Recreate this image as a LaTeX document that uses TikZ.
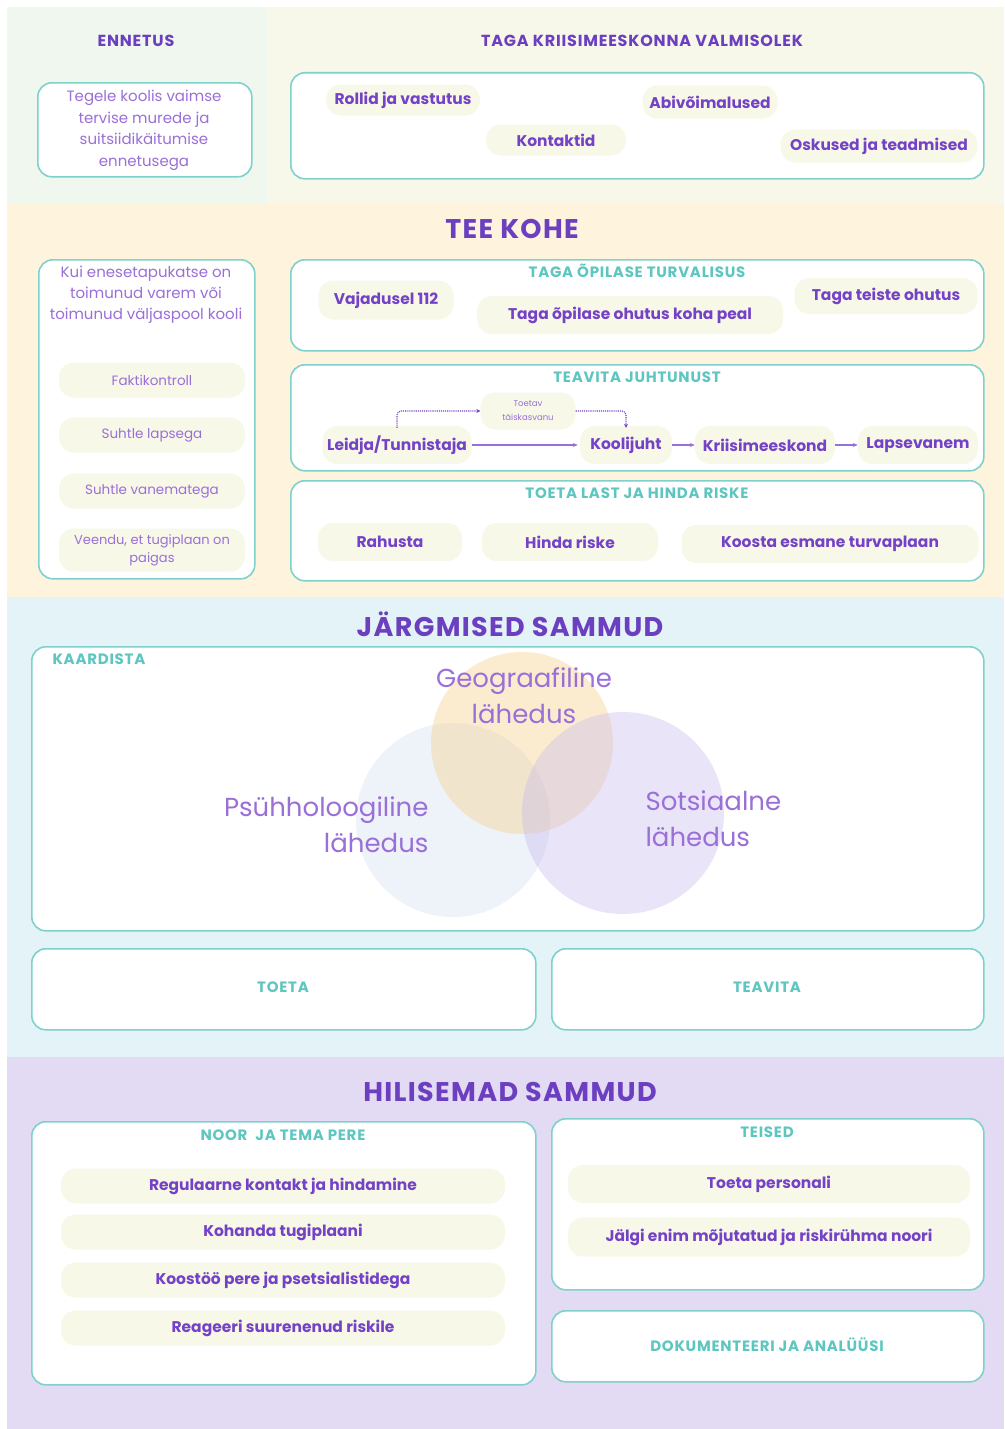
\documentclass[tikz,border=0pt]{standalone}
\usepackage{fontspec}
\setmainfont{Poppins}
\newfontfamily\capsf[LetterSpace=5]{Poppins}
\usetikzlibrary{arrows.meta}
\definecolor{purpD}{HTML}{6B3FC0}
\definecolor{purpT}{HTML}{7442C6}
\definecolor{purpL}{HTML}{9A6FD8}
\definecolor{tealT}{HTML}{5EC6C0}
\definecolor{tealB}{HTML}{7FD1CC}
\definecolor{cream}{HTML}{F8F8E8}
\definecolor{bgGreen}{HTML}{EFF7EF}
\definecolor{bgCream}{HTML}{F8F8EA}
\definecolor{bgOrange}{HTML}{FEF3DD}
\definecolor{bgBlue}{HTML}{E3F3F8}
\definecolor{bgPurple}{HTML}{E3DAF4}
\definecolor{vOrange}{HTML}{F5D08A}
\definecolor{vBlue}{HTML}{C6DAEE}
\definecolor{vPurple}{HTML}{C3B3F0}
\tikzset{
  card/.style={draw=tealB, line width=1.6pt, rounded corners=14pt, fill=white, anchor=north west, inner sep=0pt},
  pill/.style={fill=cream, rounded corners=15pt, text=purpT, font=\bfseries\fontsize{15.5}{17}\selectfont, inner sep=2pt, align=center},
  lpill/.style={fill=cream, rounded corners=15pt, text=purpL, font=\fontsize{13.5}{17}\selectfont, inner sep=2pt, align=center},
  sechead/.style={text=purpD, font=\capsf\bfseries\fontsize{27}{30}\selectfont},
  tophead/.style={text=purpD, font=\capsf\bfseries\fontsize{16}{18}\selectfont},
  boxtitle/.style={text=tealT, font=\capsf\bfseries\fontsize{15}{17}\selectfont},
  lighttxt/.style={text=purpL, font=\fontsize{15}{21.5}\selectfont, align=center},
  venntxt/.style={text=purpL, font=\fontsize{26}{36}\selectfont},
  flow/.style={draw=purpL, line width=1.2pt, -{Stealth[length=5pt,width=4pt]}},
  dotflow/.style={draw=purpT, line width=1.1pt, densely dotted, rounded corners=4pt, -{Stealth[length=4pt,width=4pt]}},
}
\begin{document}
\begin{tikzpicture}[x=1pt,y=-1pt]
\useasboundingbox (0,0) rectangle (1004,1429);
\fill[white] (0,0) rectangle (1004,1429);
% background bands
\fill[bgGreen] (7,7) rectangle (267,203);
\fill[bgCream] (267,7) rectangle (1004,203);
\fill[bgOrange] (7,203) rectangle (1004,597);
\fill[bgBlue] (7,597) rectangle (1004,1057);
\fill[bgPurple] (7,1057) rectangle (1004,1429);

% ---------- top ----------
\node[tophead] (ennetus) at (136,41) {ENNETUS};
\node[card, minimum width=214pt, minimum height=94pt] (ennbox) at (37,82) {};
\node[lighttxt] (enntext) at (144,130.5) {Tegele koolis vaimse\\tervise murede ja\\suitsiidikäitumise\\ennetusega};

\node[tophead] (taga) at (642,41) {TAGA KRIISIMEESKONNA VALMISOLEK};
\node[card, minimum width=693pt, minimum height=106pt] (tagabox) at (290,72) {};
\node[pill, minimum width=154pt, minimum height=31pt] (rollid) at (403,100) {Rollid ja vastutus};
\node[pill, minimum width=140pt, minimum height=31pt] (kontaktid) at (556,140) {Kontaktid};
\node[pill, minimum width=135pt, minimum height=33pt] (abi) at (710,102) {Abivõimalused};
\node[pill, minimum width=197pt, minimum height=33pt] (oskused) at (879,146) {Oskused ja teadmised};

% ---------- TEE KOHE ----------
\node[sechead] (teekohe) at (512,229) {TEE KOHE};
\node[card, minimum width=216pt, minimum height=319pt] (leftbox) at (38,259) {};
\node[lighttxt, font=\fontsize{15}{21}\selectfont] (kui) at (146,295) {Kui enesetapukatse on\\toimunud varem või\\toimunud väljaspool kooli};
\node[lpill, minimum width=186pt, minimum height=35pt] (fakt) at (152,380) {Faktikontroll};
\node[lpill, minimum width=186pt, minimum height=35pt] (lapsega) at (152,435) {Suhtle lapsega};
\node[lpill, minimum width=186pt, minimum height=35pt] (vanem) at (152,491) {Suhtle vanematega};
\node[lpill, minimum width=186pt, minimum height=43pt, font=\fontsize{13}{18}\selectfont] (veendu) at (152,550) {Veendu, et tugiplaan on\\paigas};

\node[card, minimum width=693pt, minimum height=91pt] (turvbox) at (290,259) {};
\node[boxtitle] (turvtitle) at (637,271) {TAGA ÕPILASE TURVALISUS};
\node[pill, minimum width=135pt, minimum height=39pt] (v112) at (386,300) {Vajadusel 112};
\node[pill, minimum width=306pt, minimum height=38pt] (ohutus) at (630,315) {Taga õpilase ohutus koha peal};
\node[pill, minimum width=183pt, minimum height=36pt] (teiste) at (886,296) {Taga teiste ohutus};

\node[card, minimum width=693pt, minimum height=106pt] (teavbox) at (290,364) {};
\node[boxtitle] (teavtitle) at (637,377) {TEAVITA JUHTUNUST};
\node[pill, minimum width=149pt, minimum height=38pt] (leidja) at (397,445) {Leidja/Tunnistaja};
\node[pill, minimum width=92pt, minimum height=38pt] (koolijuht) at (626,445) {Koolijuht};
\node[pill, minimum width=140pt, minimum height=38pt] (kriisi) at (765,445) {Kriisimeeskond};
\node[pill, minimum width=120pt, minimum height=38pt] (lapsevanem) at (918,445) {Lapsevanem};
\node[lpill, minimum width=95pt, minimum height=37pt, font=\fontsize{8.5}{14}\selectfont] (toetav) at (528,411) {Toetav\\täiskasvanu};
\draw[flow] (leidja.east) -- ([xshift=-2pt]koolijuht.west);
\draw[flow] (koolijuht.east) -- (kriisi.west);
\draw[flow] (kriisi.east) -- (lapsevanem.west);
\draw[dotflow] ([yshift=-2pt]leidja.north) |- (toetav.west);
\draw[dotflow] (toetav.east) -| ([yshift=-2pt]koolijuht.north);

\node[card, minimum width=693pt, minimum height=100pt] (toetabox) at (290,480) {};
\node[boxtitle] (toetatitle) at (637,493) {TOETA LAST JA HINDA RISKE};
\node[pill, minimum width=144pt, minimum height=38pt] (rahusta) at (390,542) {Rahusta};
\node[pill, minimum width=176pt, minimum height=38pt] (hinda) at (570,542) {Hinda riske};
\node[pill, minimum width=297pt, minimum height=38pt] (koosta) at (830,544) {Koosta esmane turvaplaan};

% ---------- JÄRGMISED SAMMUD ----------
\node[sechead] (jargmised) at (510,624) {JÄRGMISED SAMMUD};
\node[card, minimum width=952pt, minimum height=284pt] (kaardbox) at (31,646) {};
\node[boxtitle, anchor=west] (kaardista) at (49,659) {KAARDISTA};
\fill[vBlue, fill opacity=0.3] (453,820) circle[radius=97];
\fill[vOrange, fill opacity=0.4] (522,743) circle[radius=91];
\fill[vPurple, fill opacity=0.35] (623,813) circle[radius=101];
\node[venntxt, align=center] (geo) at (524,696) {Geograafiline\\lähedus};
\node[venntxt, align=right, anchor=east] (psyh) at (432,825) {Psühholoogiline\\lähedus};
\node[venntxt, align=left, anchor=west] (sots) at (642,819) {Sotsiaalne\\lähedus};

\node[card, minimum width=504pt, minimum height=81pt] (toetacard) at (31,948) {};
\node[boxtitle] (toeta) at (283,987) {TOETA};
\node[card, minimum width=432pt, minimum height=81pt] (teavcard) at (551,948) {};
\node[boxtitle] (teavita) at (767,987) {TEAVITA};

% ---------- HILISEMAD SAMMUD ----------
\node[sechead] (hilisemad) at (510,1092) {HILISEMAD SAMMUD};
\node[card, minimum width=504pt, minimum height=263pt] (noorbox) at (31,1121) {};
\node[boxtitle] (noortitle) at (283,1135) {NOOR\ \ JA TEMA PERE};
\node[pill, minimum width=444pt, minimum height=35pt] (reg) at (283,1186) {Regulaarne kontakt ja hindamine};
\node[pill, minimum width=444pt, minimum height=35pt] (kohanda) at (283,1232) {Kohanda tugiplaani};
\node[pill, minimum width=444pt, minimum height=35pt] (koostoo) at (283,1280) {Koostöö pere ja psetsialistidega};
\node[pill, minimum width=444pt, minimum height=35pt] (reageeri) at (283,1328) {Reageeri suurenenud riskile};

\node[card, minimum width=432pt, minimum height=171pt] (teisedbox) at (551,1118) {};
\node[boxtitle] (teised) at (767,1132) {TEISED};
\node[pill, minimum width=402pt, minimum height=38pt] (personal) at (769,1184) {Toeta personali};
\node[pill, minimum width=402pt, minimum height=39pt] (jalgi) at (769,1237) {Jälgi enim mõjutatud ja riskirühma noori};

\node[card, minimum width=432pt, minimum height=71pt] (dokbox) at (551,1310) {};
\node[boxtitle] (dok) at (767,1345) {DOKUMENTEERI JA ANALÜÜSI};
\end{tikzpicture}
\end{document}
